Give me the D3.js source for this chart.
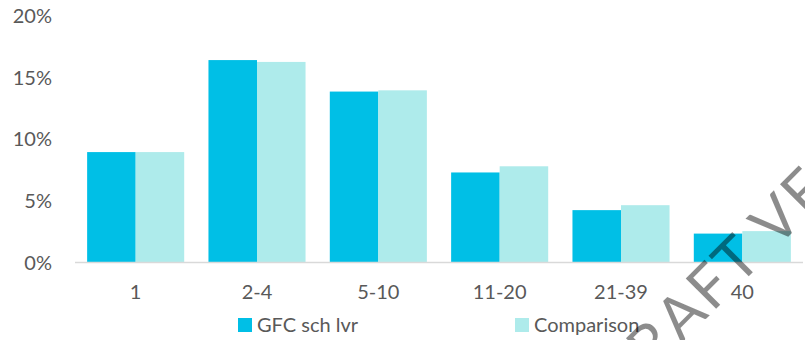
<!DOCTYPE html>
<html>
<head>
<meta charset="utf-8">
<script src="https://cdn.jsdelivr.net/npm/d3@7"></script>
<style>
  html, body { margin: 0; padding: 0; background: #fff; }
  svg { display: block; }
  text { font-family: Lato, "Open Sans", "Liberation Sans", sans-serif; }
</style>
</head>
<body>
<svg id="chart" width="805" height="340"></svg>
<script>
const categories = ["1", "2-4", "5-10", "11-20", "21-39", "40"];
const seriesNames = ["GFC sch lvr", "Comparison"];
const gfcValues = [8.9, 16.35, 13.8, 7.25, 4.2, 2.3];
const comparisonValues = [8.9, 16.2, 13.9, 7.75, 4.6, 2.5];
const yTicks = [0, 5, 10, 15, 20];
const colors = ["#00BFE6", "#AEEBEB"];
const watermarkText = "DRAFT VERSION";

const svg = d3.select("#chart");
const x0 = d3.scaleBand().domain(categories).range([75, 803]).paddingInner(0.2).paddingOuter(0.1);
const x1 = d3.scaleBand().domain(seriesNames).range([0, x0.bandwidth()]);
const y = d3.scaleLinear().domain([0, 20]).range([262, 15]);

const rows = categories.map((c, i) => ({ cat: c, vals: [gfcValues[i], comparisonValues[i]] }));

// bars
const g = svg.append("g");
rows.forEach(r => {
  r.vals.forEach((v, j) => {
    g.append("rect")
      .attr("x", x0(r.cat) + x1(seriesNames[j]))
      .attr("y", y(v))
      .attr("width", x1.bandwidth())
      .attr("height", y(0) - y(v))
      .attr("fill", colors[j]);
  });
});

// baseline
svg.append("line")
  .attr("x1", 75).attr("x2", 803)
  .attr("y1", y(0) + 0.5).attr("y2", y(0) + 0.5)
  .attr("stroke", "#d9d9d9").attr("stroke-width", 1.5);

// y axis labels
const yAxis = d3.axisLeft(y).tickValues(yTicks).tickFormat(d => d + "%").tickSize(0).tickPadding(0);
const ya = svg.append("g").attr("transform", "translate(52,1)").call(yAxis);
ya.select(".domain").remove();
ya.selectAll("text").attr("font-size", 20).attr("fill", "#595959")
  .attr("font-family", "Lato, 'Open Sans', sans-serif");

// x axis labels
const xAxis = d3.axisBottom(x0).tickSize(0).tickPadding(0);
const xa = svg.append("g").attr("transform", "translate(0,285)").call(xAxis);
xa.select(".domain").remove();
xa.selectAll("text").attr("font-size", 20).attr("fill", "#595959")
  .attr("font-family", "Lato, 'Open Sans', sans-serif");

// legend
const legendX = [238, 515];
seriesNames.forEach((n, j) => {
  svg.append("rect").attr("x", legendX[j]).attr("y", 318).attr("width", 14).attr("height", 14).attr("fill", colors[j]);
  svg.append("text").attr("x", legendX[j] + 19).attr("y", 325).attr("dy", "0.35em")
    .attr("font-size", 20).attr("fill", "#595959").text(n);
});

// watermark: place so the "V" lands where it is in the reference
const ls = 3;
const wm = svg.append("text")
  .attr("font-size", 60)
  .attr("letter-spacing", ls)
  .attr("fill", "#000")
  .attr("fill-opacity", 0.45)
  .text(watermarkText);
const vIndex = watermarkText.indexOf("V");
let vx = 225;
try {
  const ext = wm.node().getExtentOfChar(vIndex);
  vx = ext.x + (ext.width - ls) / 2;
} catch (e) {}
const c = Math.SQRT1_2;
const tx = 790 - vx * c, ty = 235 + vx * c;
wm.attr("transform", `translate(${tx},${ty}) rotate(-45)`);
</script>
</body>
</html>
